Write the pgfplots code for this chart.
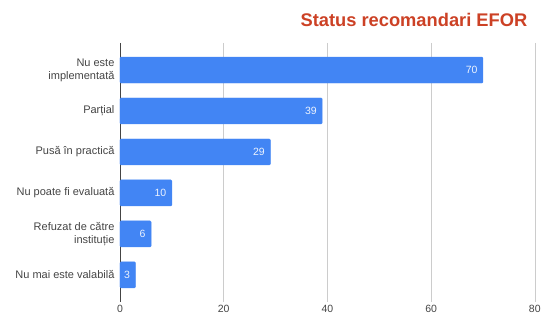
\documentclass[border=0pt]{standalone}
\usepackage{pgfplots}
\pgfplotsset{compat=1.18}
\usepackage{fontspec}
\setmainfont{Liberation Sans}
\definecolor{barblue}{HTML}{4285F4}
\definecolor{titlered}{HTML}{CC4125}
\definecolor{labgray}{HTML}{444444}
\definecolor{gridgray}{HTML}{CCCCCC}
\begin{document}
\begin{tikzpicture}
\path (0,0) rectangle (544pt,320pt);
\begin{axis}[
  at={(120pt,18pt)}, anchor=south west,
  scale only axis, width=415pt, height=259pt,
  xbar, bar width=26pt,
  xmin=0, xmax=80, ymin=-0.66, ymax=5.66, y dir=reverse,
  ytick={0,1,2,3,4,5},
  yticklabels={{Nu este\\implementată},{Parțial},{Pusă în practică},{Nu poate fi evaluată},{Refuzat de către\\instituție},{Nu mai este valabilă}},
  yticklabel style={align=right, font=\fontsize{11}{13}\selectfont, text=labgray, xshift=-2pt},
  xtick={20,40,60,80},
  extra x ticks={0},
  extra x tick style={grid style={draw=labgray, line width=0.9pt}},
  xticklabel style={font=\fontsize{10.5}{12.5}\selectfont, text=labgray},
  /pgf/number format/assume math mode=true,
  xmajorgrids,
  grid style={draw=gridgray, line width=0.6pt},
  major tick length=0pt,
  axis line style={draw=none},
  point meta=x,
  nodes near coords,
  nodes near coords style={anchor=east, xshift=-2pt, text=white!90!barblue, font=\fontsize{10.5}{12}\selectfont, /pgf/number format/assume math mode=true},
]
\addplot[draw=barblue, fill=barblue, rounded corners=1pt] coordinates {(70,0) (39,1) (29,2) (10,3) (6,4) (3,5)};
\end{axis}
\node[anchor=base east, font=\bfseries\fontsize{18.3}{21}\selectfont, text=titlered] at (531pt,293pt) {Status recomandari EFOR};
\end{tikzpicture}
\end{document}
